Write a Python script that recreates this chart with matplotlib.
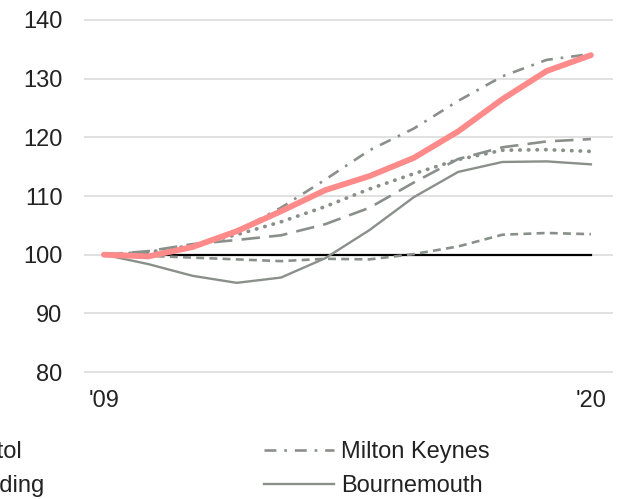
import matplotlib
matplotlib.use("Agg")
import matplotlib.pyplot as plt

# -----------------------------------------------------------------------------
# Data (index, 2009 = 100)
# -----------------------------------------------------------------------------
years = list(range(2009, 2021))

highlight    = [100, 99.7, 101.3, 104.0, 107.4, 111.0, 113.4, 116.5, 121.0, 126.5, 131.3, 134.0]
milton       = [100, 100.2, 101.2, 104.0, 108.0, 112.8, 117.8, 121.5, 126.2, 130.4, 133.2, 134.2]
bristol      = [100, 100.4, 101.6, 103.4, 105.6, 108.2, 111.2, 113.8, 116.2, 117.8, 117.9, 117.6]
reading      = [100, 100.6, 101.8, 102.5, 103.3, 105.2, 108.0, 112.3, 116.3, 118.3, 119.3, 119.7]
other        = [100, 99.8, 99.5, 99.2, 98.9, 99.3, 99.2, 100.1, 101.4, 103.4, 103.7, 103.5]
bournemouth  = [100, 98.4, 96.4, 95.2, 96.1, 99.4, 104.2, 109.8, 114.1, 115.8, 115.9, 115.4]
baseline     = [100] * len(years)

x_ticks = [2009, 2020]
x_labels = ["'09", "'20"]
y_ticks = [80, 90, 100, 110, 120, 130, 140]

GREY = "#899089"
RED = "#ff8a8a"
FS = 17

plt.rcParams["font.family"] = ["Liberation Sans", "DejaVu Sans"]

# -----------------------------------------------------------------------------
# Figure
# -----------------------------------------------------------------------------
fig = plt.figure(figsize=(6.24, 4.99), dpi=100)
ax = fig.add_axes([0.1346, 0.2427, 0.9824 - 0.1346, 0.9717 - 0.2427])

ax.plot(years, baseline, color="black", lw=1.6, zorder=2)
ax.plot(years, other, color=GREY, lw=1.9, ls=(0, (3, 2)), zorder=3)
ax.plot(years, bournemouth, color=GREY, lw=1.7, zorder=3, label="Bournemouth")
ax.plot(years, reading, color=GREY, lw=1.9, ls=(0, (7, 3.5)), zorder=3, label="Reading")
ax.plot(years, bristol, color=GREY, lw=2.7, ls=(0, (0.1, 2.2)),
        dash_capstyle="round", zorder=3, label="Bristol")
ax.plot(years, milton, color=GREY, lw=1.9, ls=(0, (4.5, 3, 1, 3)), zorder=3,
        label="Milton Keynes")
ax.plot(years, highlight, color=RED, lw=4.2, solid_capstyle="round", zorder=4)

ax.set_xlim(2008.55, 2020.5)
ax.set_ylim(79, 141)
ax.set_yticks(y_ticks)
ax.set_xticks(x_ticks)
ax.set_xticklabels(x_labels)
ax.grid(axis="y", color="#dcdcdc", lw=1.2)
ax.set_axisbelow(True)
for s in ax.spines.values():
    s.set_visible(False)
ax.tick_params(axis="y", length=0, pad=15.5, labelsize=FS, colors="#222222")
ax.tick_params(axis="x", length=0, pad=9, labelsize=FS, colors="#222222")

# legend, partly off the left edge like the source crop
h, l = ax.get_legend_handles_labels()
order = ["Bristol", "Reading", "Milton Keynes", "Bournemouth"]
hs = [h[l.index(n)] for n in order]
fig.legend(hs, order, ncol=2, frameon=False, loc="upper left",
           bbox_to_anchor=(-121 / 624, 1 - 441 / 499), borderpad=0,
           borderaxespad=0, handlelength=2.95, handletextpad=0.3,
           columnspacing=9.32, labelspacing=0.5, fontsize=FS,
           labelcolor="#222222")

fig.savefig("out.png", dpi=100)
